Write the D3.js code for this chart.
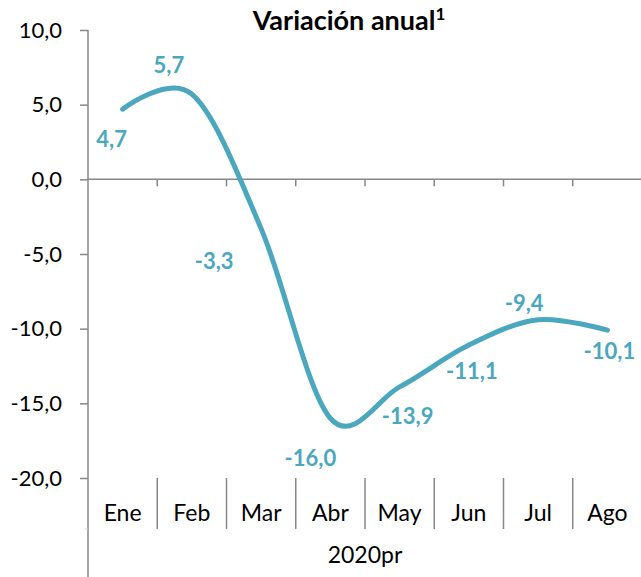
<!DOCTYPE html>
<html>
<head>
<meta charset="utf-8">
<script src="https://cdn.jsdelivr.net/npm/d3@7"></script>
<style>
  body { margin: 0; background: #fff; }
  svg text { font-family: Lato, "Open Sans", sans-serif; }
</style>
</head>
<body>
<div id="chart"></div>
<script>
// data
var months = ["Ene", "Feb", "Mar", "Abr", "May", "Jun", "Jul", "Ago"];
var values = [4.7, 5.7, -3.3, -16.0, -13.9, -11.1, -9.4, -10.1];
var yTicks = [10, 5, 0, -5, -10, -15, -20];
var groupLabel = "2020pr";
var title = "Variación anual";

// label placement relative to each point (px)
var labelOffsets = [[-11, 30], [-23, -29], [-47, 33], [-20, 40], [8, 29], [3, 26], [-14, -16], [2, 21]];

var W = 641, H = 577;
var plotLeft = 88, plotRight = 642, plotTop = 30, plotBottom = 478;
var gray = "#878787", teal = "#4AA7BE";

// comma decimals, plain hyphen for negatives
var locale = d3.formatLocale({decimal: ",", thousands: ".", grouping: [3], currency: ["", ""], minus: "-"});
var fmt = locale.format(".1f");

var svg = d3.select("#chart").append("svg").attr("width", W).attr("height", H);

var x = d3.scaleBand().domain(months).range([plotLeft, plotRight]);
var y = d3.scaleLinear().domain([-20, 10]).range([plotBottom, plotTop]);

// y axis
var yAxis = svg.append("g").attr("transform", "translate(" + plotLeft + ",0)")
    .call(d3.axisLeft(y).tickValues(yTicks).tickFormat(fmt).tickSize(8).tickPadding(18));
yAxis.select(".domain").remove();
yAxis.selectAll("line").attr("stroke", gray).attr("stroke-width", 1.5);
yAxis.selectAll("text").attr("font-size", 22).attr("fill", "#000");
svg.append("line").attr("x1", plotLeft).attr("x2", plotLeft).attr("y1", plotTop).attr("y2", H)
    .attr("stroke", gray).attr("stroke-width", 1.5);
svg.append("line").attr("x1", plotLeft - 3).attr("x2", plotLeft).attr("y1", 529).attr("y2", 529)
    .attr("stroke", "#d0d0d0").attr("stroke-width", 1);

// zero line with category ticks
svg.append("line").attr("x1", plotLeft).attr("x2", plotRight).attr("y1", y(0)).attr("y2", y(0))
    .attr("stroke", gray).attr("stroke-width", 1.5);
var bounds = months.slice(1).map(function(m) { return x(m); });
svg.selectAll(".ztick").data(bounds).enter().append("line")
    .attr("x1", function(d) { return d; }).attr("x2", function(d) { return d; })
    .attr("y1", y(0)).attr("y2", y(0) + 7)
    .attr("stroke", gray).attr("stroke-width", 1.5);

// category separators below the plot
svg.selectAll(".sep").data(bounds).enter().append("line")
    .attr("x1", function(d) { return d; }).attr("x2", function(d) { return d; })
    .attr("y1", plotBottom).attr("y2", 529)
    .attr("stroke", gray).attr("stroke-width", 1.5);

svg.selectAll(".cat").data(months).enter().append("text")
    .attr("x", function(d) { return x(d) + x.bandwidth() / 2; })
    .attr("y", 521)
    .attr("text-anchor", "middle").attr("font-size", 23).attr("fill", "#000")
    .text(function(d) { return d; });

svg.append("text").attr("x", (plotLeft + plotRight) / 2).attr("y", 563)
    .attr("text-anchor", "middle").attr("font-size", 23).attr("fill", "#000")
    .text(groupLabel);

// title
var t = svg.append("text").attr("x", 349).attr("y", 30).attr("text-anchor", "middle")
    .attr("font-size", 27).attr("font-weight", "bold").attr("fill", "#000");
t.append("tspan").text(title);
t.append("tspan").attr("font-size", 17).attr("dy", -10).text("1");

// line
var line = d3.line()
    .x(function(d, i) { return x(months[i]) + x.bandwidth() / 2; })
    .y(function(d) { return y(d); })
    .curve(d3.curveCardinal.tension(0));
svg.append("path").datum(values).attr("d", line)
    .attr("fill", "none").attr("stroke", teal).attr("stroke-width", 5)
    .attr("stroke-linecap", "round");

// data labels
svg.selectAll(".lbl").data(values).enter().append("text")
    .attr("x", function(d, i) { return x(months[i]) + x.bandwidth() / 2 + labelOffsets[i][0]; })
    .attr("y", function(d, i) { return y(d) + labelOffsets[i][1]; })
    .attr("dy", "0.35em").attr("text-anchor", "middle")
    .attr("font-size", 22).attr("font-weight", "bold").attr("fill", teal)
    .text(function(d) { return fmt(d); });
</script>
</body>
</html>
